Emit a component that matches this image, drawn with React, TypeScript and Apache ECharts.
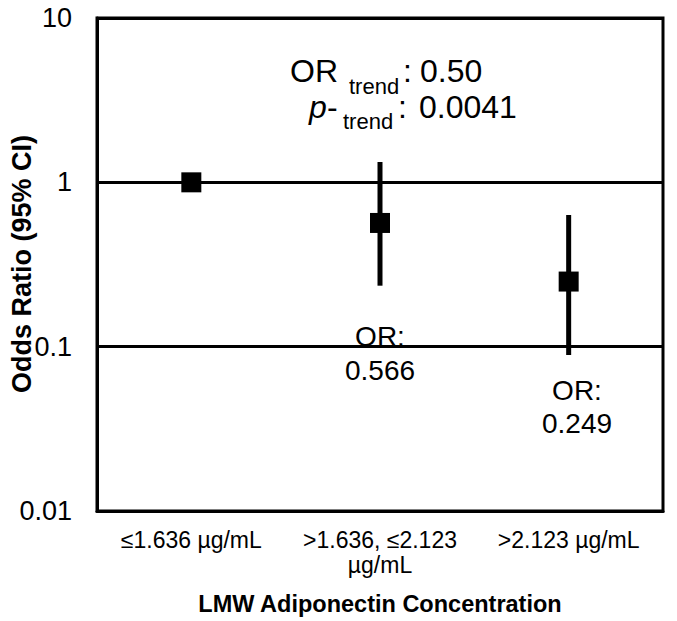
import React, { useEffect, useRef } from "react";
import * as echarts from "echarts";

const categories = ["≤1.636 µg/mL", ">1.636, ≤2.123\nµg/mL", ">2.123 µg/mL"];
const oddsRatios = [1, 0.566, 0.249];
const ciLow: (number | null)[] = [null, 0.235, 0.089];
const ciHigh: (number | null)[] = [null, 1.33, 0.633];
const yTickValues = [0.01, 0.1, 1, 10];
const yTickLabels = ["0.01", "0.1", "1", "10"];
const orLabels = ["", "0.566", "0.249"];
const trendOR = "0.50";
const trendP = "0.0041";

const FONT = "'Liberation Sans', Arial, Helvetica, sans-serif";

export default function App() {
  const ref = useRef<HTMLDivElement>(null);

  useEffect(() => {
    if (!ref.current) return;
    const chart = echarts.init(ref.current, null, { renderer: "svg" });

    const errData = ciLow
      .map((l, i) => (l == null || ciHigh[i] == null ? null : [i, l, ciHigh[i]]))
      .filter((d) => d !== null);

    const fmtY = (v: number) => {
      let best = 0;
      let bd = Infinity;
      yTickValues.forEach((t, i) => {
        const d = Math.abs(Math.log10(t) - Math.log10(v));
        if (d < bd) {
          bd = d;
          best = i;
        }
      });
      return yTickLabels[best];
    };

    const txt = (
      text: string,
      x: number,
      y: number,
      size: number,
      align: string,
      extra: any = {}
    ) => ({
      type: "text",
      x,
      y,
      silent: true,
      z: 100,
      ...extra,
      style: {
        text,
        font: `${extra.fontStyle || "normal"} ${extra.fontWeight || "normal"} ${size}px ${FONT}`,
        fill: "#000",
        align,
        verticalAlign: "middle",
      },
    });

    const orLabelPos = [null, [380, 336, 370], [577, 390, 423]];
    const orGraphics: any[] = [];
    orLabels.forEach((lab, i) => {
      const p = orLabelPos[i];
      if (!lab || !p) return;
      orGraphics.push(txt("OR:", p[0], p[1], 28, "center"));
      orGraphics.push(txt(lab, p[0], p[2], 28, "center"));
    });

    chart.setOption({
      animation: false,
      backgroundColor: "#fff",
      grid: {
        left: 97,
        top: 18,
        right: 14,
        bottom: 110,
        show: true,
        borderColor: "#000",
        borderWidth: 3,
        backgroundColor: "transparent",
      },
      xAxis: {
        type: "category",
        data: categories,
        boundaryGap: true,
        axisLine: { show: true, lineStyle: { color: "#000", width: 3 } },
        axisTick: { show: false },
        splitLine: { show: false },
        axisLabel: {
          color: "#000",
          fontFamily: FONT,
          fontSize: 23,
          lineHeight: 25,
          margin: 16,
          interval: 0,
        },
      },
      yAxis: {
        type: "log",
        logBase: 10,
        min: 0.01,
        max: 10,
        interval: 1,
        axisLine: { show: true, lineStyle: { color: "#000", width: 3 } },
        axisTick: { show: false },
        splitLine: { show: true, lineStyle: { color: "#000", width: 3 } },
        axisLabel: {
          color: "#000",
          fontFamily: FONT,
          fontSize: 27,
          margin: 25,
          formatter: fmtY,
        },
      },
      series: [
        {
          type: "custom",
          z: 5,
          data: errData,
          encode: { x: 0, y: [1, 2] },
          renderItem: (params: any, api: any) => {
            const x = api.value(0);
            const lo = api.coord([x, api.value(1)]);
            const hi = api.coord([x, api.value(2)]);
            return {
              type: "line",
              shape: { x1: lo[0], y1: lo[1], x2: hi[0], y2: hi[1] },
              style: { stroke: "#000", lineWidth: 5 },
            };
          },
        },
        {
          type: "scatter",
          z: 10,
          data: oddsRatios,
          symbol: "rect",
          symbolSize: 20,
          itemStyle: { color: "#000", opacity: 1 },
        },
      ],
      graphic: [
        // OR trend line
        txt("OR", 338, 71, 32, "right"),
        txt("trend", 349, 86, 22, "left"),
        txt(":", 403, 71, 32, "left"),
        txt(trendOR, 420, 71, 32, "left"),
        // p-trend line
        txt("p", 309, 107, 32, "left", { fontStyle: "italic" }),
        txt("-", 327, 107, 32, "left"),
        txt("trend", 343, 121, 22, "left"),
        txt(":", 398, 107, 32, "left"),
        txt(trendP, 419, 107, 32, "left"),
        ...orGraphics,
        // axis titles
        txt("LMW Adiponectin Concentration", 380, 604, 23.5, "center", {
          fontWeight: "bold",
        }),
        txt("Odds Ratio (95% CI)", 22, 264, 27, "center", {
          fontWeight: "bold",
          rotation: Math.PI / 2,
        }),
      ],
    });

    return () => chart.dispose();
  }, []);

  return (
    <div
      ref={ref}
      style={{ position: "fixed", left: 0, top: 0, width: 677, height: 621, background: "#fff" }}
    />
  );
}
